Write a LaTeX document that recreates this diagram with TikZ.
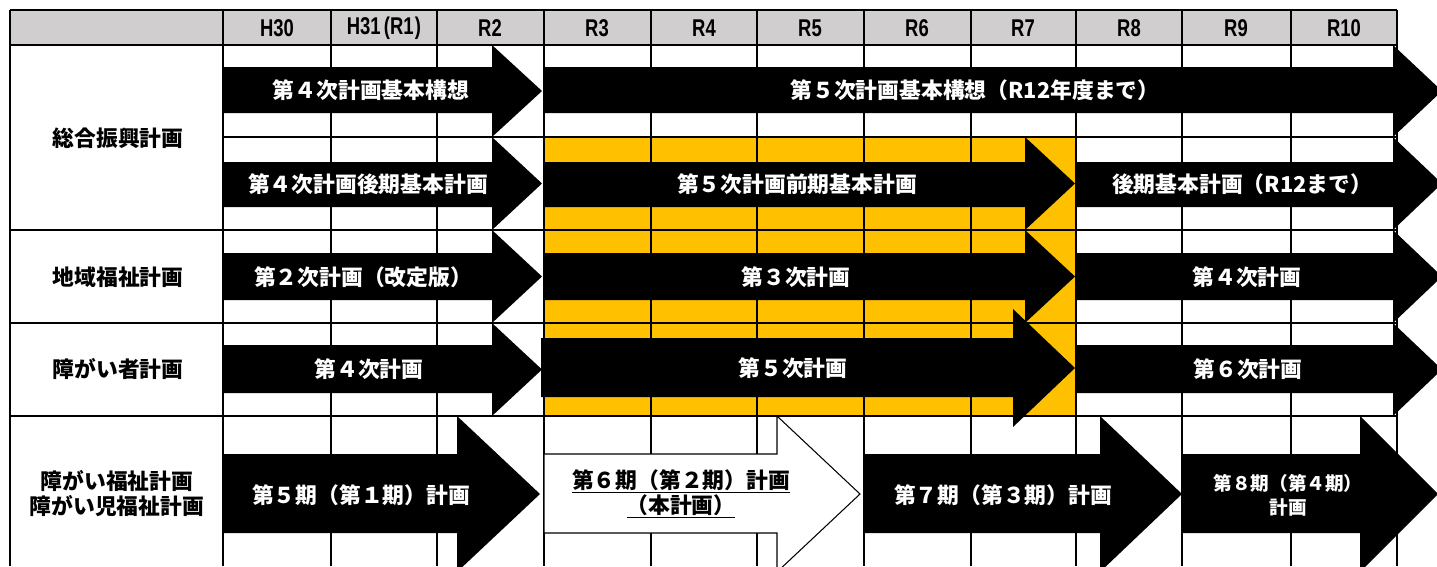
\documentclass[tikz,border=0pt]{standalone}
\usepackage{fontspec}
\setmainfont{Noto Sans CJK JP}
\newfontfamily\yearfont{Liberation Sans}

\definecolor{headgray}{HTML}{D0CECE}
\definecolor{planyellow}{HTML}{FFC000}

\tikzset{
	gridline/.style={line width=1.1pt, draw=black},
	yeartext/.style={font=\yearfont\bfseries\fontsize{13.8}{15}\selectfont, inner sep=0pt},
	rowtitle/.style={font=\bfseries\fontsize{12.4}{14.2}\selectfont, align=center},
	plantext/.style={text=white, font=\bfseries\fontsize{12.4}{14.2}\selectfont, align=center, inner sep=0pt},
	plansmall/.style={plantext, font=\bfseries\fontsize{10.6}{13.6}\selectfont},
}

% condensed year label
\newcommand{\yearlabel}[1]{\scalebox{0.76}[1]{#1}}

% arrow: [options] x start, x head base, x tip, body top, body bottom, head top, head bottom
\newcommand{\planarrow}[8][fill=black]{%
	\path[#1] (#2,#5) -- (#3,#5) -- (#3,#7) -- (#4,{(#7+#8)/2}) -- (#3,#8) -- (#3,#6) -- (#2,#6) -- cycle;}

\begin{document}
\begin{tikzpicture}[x=0.02cm, y=-0.02cm]
		% Size of the picture
		\useasboundingbox (0,0) rectangle (1437,566);
		\clip (0,0) rectangle (1437,566);
		
		% Header row and the yellow period R3-R7
		\fill[headgray] (10,10) rectangle (1397,45);
		\fill[planyellow] (544,137) rectangle (1076,416);
		
		% Grid of the table
		\draw[gridline] (10,10) -- (1397,10);
		\draw[gridline] (10,45) -- (1397,45);
		\draw[gridline] (223,137) -- (1397,137);
		\foreach \y in {230,323,416}
			\draw[gridline] (10,\y) -- (1397,\y);
		\foreach \x in {10,223,331,437,544,651,757,864,971,1076,1182,1291,1397}
			\draw[gridline] (\x,10) -- (\x,566);
		
		% Years
		\foreach \x/\lbl [count=\i] in {277/H30, 384/H31\kern2.5pt(R1\kern1pt), 490/R2, 597/R3, 704/R4, 810/R5, 917/R6, 1023/R7, 1129/R8, 1236/R9, 1344/R10}
			\node[yeartext] (year\i) at (\x,28) {\yearlabel{\lbl}};
		
		% Names of the plans
		\node[rowtitle] (sogo) at (118,138) {総合振興計画};
		\node[rowtitle] (chiiki) at (118,277) {地域福祉計画};
		\node[rowtitle] (shogaisha) at (118,369) {障がい者計画};
		\node[rowtitle] (shogaifukushi) at (117,494) {障がい福祉計画\\障がい児福祉計画};
		
		% Arrows of the first row
		\planarrow{223}{492}{542}{67}{113}{45}{137}
		\planarrow{544}{1393}{1442}{67}{113}{45}{137}
		\node[plantext] (kihon4) at (371,90) {第４次計画基本構想};
		\node[plantext] (kihon5) at (975,90) {第５次計画基本構想（R12年度まで）};
		
		% Arrows of the second row
		\planarrow{223}{492}{542}{162}{207}{137}{230}
		\planarrow{544}{1025}{1075}{162}{207}{137}{230}
		\planarrow{1076}{1393}{1442}{162}{207}{137}{230}
		\node[plantext] (koki4) at (368,184) {第４次計画後期基本計画};
		\node[plantext] (zenki5) at (797,184) {第５次計画前期基本計画};
		\node[plantext] (koki5) at (1242,184) {後期基本計画（R12まで）};
		
		% Arrows of the third row
		\planarrow{223}{492}{542}{253}{300}{230}{323}
		\planarrow{544}{1025}{1075}{253}{300}{230}{323}
		\planarrow{1076}{1393}{1442}{253}{300}{230}{323}
		\node[plantext] (chiiki2) at (363,277) {第２次計画（改定版）};
		\node[plantext] (chiiki3) at (796,277) {第３次計画};
		\node[plantext] (chiiki4) at (1247,277) {第４次計画};
		
		% Arrows of the fourth row
		\planarrow{223}{492}{542}{345}{393}{323}{416}
		\planarrow{541}{1013}{1075}{338}{397}{309}{427}
		\planarrow{1076}{1393}{1442}{345}{393}{323}{416}
		\node[plantext] (sha4) at (369,369) {第４次計画};
		\node[plantext] (sha5) at (793,368) {第５次計画};
		\node[plantext] (sha6) at (1248,369) {第６次計画};
		
		% Arrows of the fifth row
		\planarrow{223}{457}{540}{454}{533}{416}{572}
		\planarrow[fill=white, draw=black, line width=0.6pt]{544}{777}{860}{454}{533}{416}{572}
		\planarrow{864}{1100}{1182}{454}{533}{416}{572}
		\planarrow{1182}{1360}{1438}{454}{533}{416}{572}
		\node[plantext] (ki5) at (361,495) {第５期（第１期）計画};
		\node[plantext, text=black] (ki6) at (681,494) {\underline{第６期（第２期）計画}\\\underline{（本計画）}};
		\node[plantext] (ki7) at (1003,495) {第７期（第３期）計画};
		\node[plansmall] (ki8) at (1288,495) {第８期（第４期）\\計画};
	\end{tikzpicture}
\end{document}
